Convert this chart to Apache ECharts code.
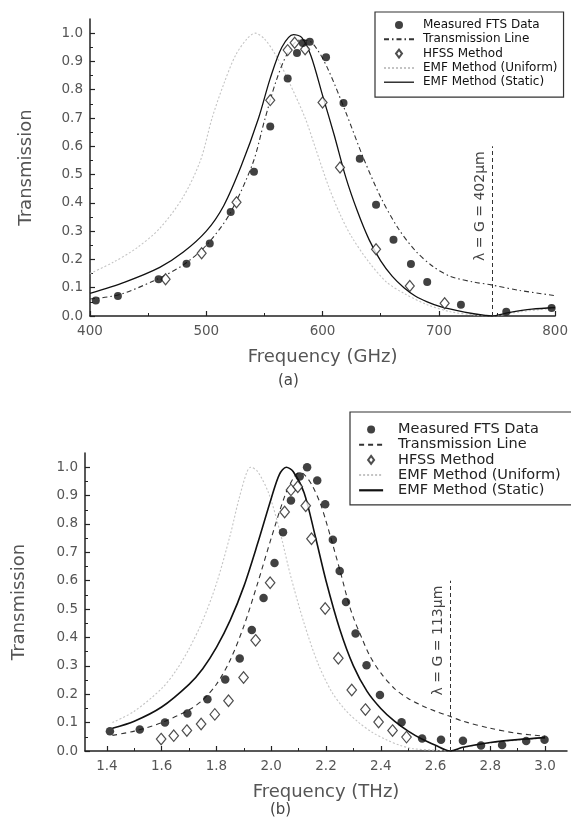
<!DOCTYPE html>
<html>
<head>
<meta charset="utf-8">
<script src="https://cdn.jsdelivr.net/npm/echarts@6/dist/echarts.min.js"></script>
<style>
html, body { margin: 0; padding: 0; background: #fff; }
#main { width: 571px; height: 829px; }
</style>
</head>
<body>
<div id="main"></div>
<script>
// ---------- panel (a), frequency in GHz ----------
var aMeasFreq  = [405, 424, 459, 483, 503, 521, 541, 555, 570, 578, 583, 589, 603, 618, 632, 646, 661, 676, 690, 719, 758, 797]
var aMeasTrans = [0.055, 0.071, 0.13, 0.185, 0.256, 0.368, 0.51, 0.67, 0.84, 0.93, 0.965, 0.97, 0.915, 0.753, 0.556, 0.393, 0.27, 0.184, 0.12, 0.04, 0.015, 0.028]

var aHfssFreq  = [465, 496, 526, 555, 570, 576, 585, 600, 615, 646, 675, 705]
var aHfssTrans = [0.13, 0.222, 0.402, 0.763, 0.94, 0.966, 0.943, 0.755, 0.525, 0.236, 0.106, 0.045]

var aTlFreq  = [400, 425, 455, 480, 500, 520, 540, 550, 560, 570, 580, 587, 595, 605, 620, 635, 650, 665, 680, 695, 710, 730, 745, 770, 800]
var aTlTrans = [0.06, 0.075, 0.125, 0.18, 0.25, 0.36, 0.54, 0.69, 0.83, 0.93, 0.975, 0.975, 0.945, 0.87, 0.72, 0.56, 0.42, 0.31, 0.23, 0.175, 0.14, 0.12, 0.11, 0.09, 0.072]

var aStaticFreq  = [400, 430, 460, 480, 500, 515, 530, 545, 555, 565, 575, 582, 590, 600, 610, 620, 630, 640, 650, 660, 670, 680, 690, 700, 715, 730, 740, 745, 760, 780, 800]
var aStaticTrans = [0.08, 0.12, 0.172, 0.225, 0.30, 0.39, 0.53, 0.70, 0.84, 0.95, 0.995, 0.985, 0.92, 0.78, 0.64, 0.49, 0.37, 0.27, 0.195, 0.14, 0.10, 0.07, 0.05, 0.035, 0.02, 0.008, 0.002, 0, 0.012, 0.024, 0.03]

var aUniFreq  = [400, 420, 440, 460, 480, 495, 505, 515, 525, 535, 542, 550, 560, 572, 585, 595, 605, 615, 625, 640, 655, 670, 690, 710, 730, 745, 770, 800]
var aUniTrans = [0.15, 0.19, 0.24, 0.31, 0.42, 0.55, 0.70, 0.82, 0.92, 0.98, 1.0, 0.98, 0.92, 0.82, 0.70, 0.58, 0.46, 0.36, 0.28, 0.19, 0.12, 0.08, 0.04, 0.015, 0.004, 0, 0.015, 0.028]

var aXTicks = [400, 500, 600, 700, 800]
var aXMinor = [450, 550, 650, 750]
var aGrating = 745.7     // lambda = G = 402 um
var aGratingTop = 0.6

// ---------- panel (b), frequency in THz ----------
var bMeasFreq  = [1.411, 1.520, 1.612, 1.694, 1.767, 1.832, 1.885, 1.929, 1.972, 2.012, 2.043, 2.072, 2.104, 2.131, 2.168, 2.197, 2.225, 2.250, 2.273, 2.308, 2.348, 2.397, 2.476, 2.551, 2.62, 2.70, 2.766, 2.843, 2.931, 2.998]
var bMeasTrans = [0.070, 0.076, 0.100, 0.132, 0.182, 0.252, 0.326, 0.426, 0.539, 0.662, 0.771, 0.883, 0.967, 1.000, 0.953, 0.869, 0.744, 0.634, 0.525, 0.414, 0.302, 0.197, 0.101, 0.044, 0.040, 0.036, 0.019, 0.021, 0.035, 0.040]

var bHfssFreq  = [1.598, 1.644, 1.692, 1.744, 1.794, 1.844, 1.899, 1.943, 1.996, 2.049, 2.072, 2.097, 2.126, 2.147, 2.197, 2.245, 2.294, 2.344, 2.392, 2.443, 2.494]
var bHfssTrans = [0.042, 0.054, 0.072, 0.095, 0.129, 0.177, 0.259, 0.390, 0.593, 0.842, 0.920, 0.931, 0.864, 0.748, 0.502, 0.327, 0.215, 0.146, 0.102, 0.072, 0.049]

var bTlFreq  = [1.42, 1.5, 1.6, 1.7, 1.75, 1.8, 1.85, 1.9, 1.95, 2.0, 2.05, 2.08, 2.10, 2.12, 2.15, 2.18, 2.2, 2.25, 2.28, 2.3, 2.33, 2.36, 2.4, 2.45, 2.5, 2.55, 2.6, 2.65, 2.7, 2.8, 2.9, 3.0]
var bTlTrans = [0.055, 0.07, 0.10, 0.145, 0.18, 0.235, 0.32, 0.44, 0.59, 0.75, 0.90, 0.96, 0.98, 0.975, 0.935, 0.87, 0.81, 0.64, 0.53, 0.47, 0.40, 0.335, 0.275, 0.22, 0.185, 0.16, 0.14, 0.123, 0.105, 0.08, 0.062, 0.052]

var bStaticFreq  = [1.42, 1.5, 1.6, 1.7, 1.75, 1.8, 1.85, 1.9, 1.95, 2.0, 2.03, 2.055, 2.08, 2.12, 2.16, 2.2, 2.25, 2.3, 2.35, 2.4, 2.45, 2.5, 2.55, 2.6, 2.653, 2.7, 2.8, 2.9, 3.0]
var bStaticTrans = [0.08, 0.105, 0.155, 0.235, 0.29, 0.365, 0.46, 0.58, 0.73, 0.89, 0.975, 1.0, 0.985, 0.91, 0.76, 0.60, 0.43, 0.30, 0.21, 0.15, 0.105, 0.07, 0.042, 0.02, 0, 0.013, 0.03, 0.04, 0.047]

var bUniFreq  = [1.42, 1.5, 1.6, 1.65, 1.7, 1.75, 1.8, 1.85, 1.88, 1.91, 1.925, 1.95, 1.99, 2.03, 2.07, 2.12, 2.17, 2.22, 2.27, 2.32, 2.37, 2.42, 2.47, 2.52, 2.6, 2.653, 2.7, 2.8, 2.9, 3.0]
var bUniTrans = [0.10, 0.14, 0.22, 0.28, 0.36, 0.46, 0.59, 0.76, 0.88, 0.98, 1.0, 0.985, 0.91, 0.78, 0.62, 0.45, 0.31, 0.21, 0.145, 0.10, 0.065, 0.04, 0.02, 0.008, 0.003, 0, 0.012, 0.028, 0.038, 0.045]

var bXTicks = [1.4, 1.6, 1.8, 2.0, 2.2, 2.4, 2.6, 2.8, 3.0]
var bXMinor = [1.5, 1.7, 1.9, 2.1, 2.3, 2.5, 2.7, 2.9]
var bGrating = 2.653     // lambda = G = 113 um
var bGratingTop = 0.6

// shared y ticks
var yTicks = [0, 0.1, 0.2, 0.3, 0.4, 0.5, 0.6, 0.7, 0.8, 0.9, 1.0]
var yMinor = [0.05, 0.15, 0.25, 0.35, 0.45, 0.55, 0.65, 0.75, 0.85, 0.95]

var names = ['Measured FTS Data', 'Transmission Line', 'HFSS Method', 'EMF Method (Uniform)', 'EMF Method (Static)']

function zip(xs, ys) {
    return xs.map(function (x, i) { return [x, ys[i]] })
}

var tickFont = 'DejaVu Sans'
var ink = '#222'

function mainX(grid, min, max, ticks, fmt, name) {
    return {
        type: 'value', gridIndex: grid, min: min, max: max, position: 'bottom',
        axisLine: { onZero: false, lineStyle: { color: ink, width: 1.5 } },
        axisTick: { inside: true, length: 5, customValues: ticks, lineStyle: { color: ink, width: 1.2 } },
        axisLabel: { customValues: ticks, formatter: fmt, margin: 8, color: '#555', fontSize: 13.5, fontFamily: tickFont },
        splitLine: { show: false },
        name: name, nameLocation: 'middle', nameGap: 32,
        nameTextStyle: { fontSize: 18, color: '#555', fontFamily: tickFont }
    }
}
function minorX(grid, min, max, ticks) {
    return {
        type: 'value', gridIndex: grid, min: min, max: max, position: 'bottom',
        axisLine: { show: false },
        axisTick: { inside: true, length: 3, customValues: ticks, lineStyle: { color: ink } },
        axisLabel: { show: false }, splitLine: { show: false }
    }
}
function mainY(grid, gap) {
    return {
        type: 'value', gridIndex: grid, min: 0, max: 1.05, position: 'left',
        axisLine: { show: true, onZero: false, lineStyle: { color: ink, width: 1.5 } },
        axisTick: { show: true, inside: true, length: 5, customValues: yTicks, lineStyle: { color: ink, width: 1.2 } },
        axisLabel: { customValues: yTicks, formatter: function (v) { return v.toFixed(1) }, margin: 7, color: '#555', fontSize: 13.5, fontFamily: tickFont },
        splitLine: { show: false },
        name: 'Transmission', nameLocation: 'middle', nameRotate: 90, nameGap: gap,
        nameTextStyle: { fontSize: 18, color: '#555', fontFamily: tickFont }
    }
}
function minorY(grid) {
    return {
        type: 'value', gridIndex: grid, min: 0, max: 1.05, position: 'left',
        axisLine: { show: false },
        axisTick: { show: true, inside: true, length: 3, customValues: yMinor, lineStyle: { color: ink } },
        axisLabel: { show: false }, splitLine: { show: false }
    }
}

function panelSeries(ax, d, dash, staticWidth, symSize, gratingAt, gratingTop, gratingText) {
    return [
        {
            name: names[3], type: 'line', xAxisIndex: ax, yAxisIndex: ax, data: zip(d.uniF, d.uniT),
            smooth: 0.3, symbol: 'none', z: 1,
            lineStyle: { color: '#c4c4c4', width: 1.1, type: [2, 2] }
        },
        {
            name: names[1], type: 'line', xAxisIndex: ax, yAxisIndex: ax, data: zip(d.tlF, d.tlT),
            smooth: 0.3, symbol: 'none', z: 2,
            lineStyle: { color: '#333', width: 1.1, type: dash }
        },
        {
            name: names[4], type: 'line', xAxisIndex: ax, yAxisIndex: ax, data: zip(d.stF, d.stT),
            smooth: 0.3, symbol: 'none', z: 3,
            lineStyle: { color: '#111', width: staticWidth },
            markLine: {
                silent: true, symbol: 'none', animation: false,
                lineStyle: { color: '#333', type: [4, 3], width: 1 },
                label: { show: true, position: 'insideEndTop', formatter: gratingText, color: '#444', fontSize: 14, fontFamily: tickFont, distance: 5 },
                data: [[{ coord: [gratingAt, 0] }, { coord: [gratingAt, gratingTop] }]]
            }
        },
        {
            name: names[0], type: 'scatter', xAxisIndex: ax, yAxisIndex: ax, data: zip(d.measF, d.measT),
            symbol: 'circle', symbolSize: symSize, z: 5,
            itemStyle: { color: '#111' }
        },
        {
            name: names[2], type: 'scatter', xAxisIndex: ax, yAxisIndex: ax, data: zip(d.hfF, d.hfT),
            symbol: 'path://M0,-6L4.5,0L0,6L-4.5,0Z', symbolSize: [symSize + 1, symSize + 3], z: 4,
            itemStyle: { color: '#fff', borderColor: '#222', borderWidth: 1.2 }
        }
    ]
}

var seriesA = panelSeries(0, {
    uniF: aUniFreq, uniT: aUniTrans, tlF: aTlFreq, tlT: aTlTrans, stF: aStaticFreq, stT: aStaticTrans,
    measF: aMeasFreq, measT: aMeasTrans, hfF: aHfssFreq, hfT: aHfssTrans
}, [5, 3, 1.5, 3], 1.3, 8, aGrating, aGratingTop, 'λ = G = 402μm')

var seriesB = panelSeries(2, {
    uniF: bUniFreq, uniT: bUniTrans, tlF: bTlFreq, tlT: bTlTrans, stF: bStaticFreq, stT: bStaticTrans,
    measF: bMeasFreq, measT: bMeasTrans, hfF: bHfssFreq, hfT: bHfssTrans
}, [5, 4], 1.6, 8.5, bGrating, bGratingTop, 'λ = G = 113μm')

// line entries: hide the little marker the line legend icon adds
function legendData(dash, staticWidth) {
    var noDot = { opacity: 0 }
    return [
        { name: names[0] },
        { name: names[1], lineStyle: { type: dash }, itemStyle: noDot },
        { name: names[2] },
        { name: names[3], itemStyle: noDot },
        { name: names[4], lineStyle: { width: staticWidth }, itemStyle: noDot }
    ]
}

var myChart = echarts.init(document.getElementById('main'), null, { renderer: 'canvas' })
myChart.setOption({
    animation: false,
    backgroundColor: '#fff',
    grid: [
        { left: 90, right: 15, top: 19, height: 297 },
        { left: 85, right: 4, top: 453, height: 298 }
    ],
    xAxis: [
        mainX(0, 400, 800, aXTicks, function (v) { return String(v) }, 'Frequency (GHz)'),
        minorX(0, 400, 800, aXMinor),
        mainX(1, 1.32, 3.08, bXTicks, function (v) { return v.toFixed(1) }, 'Frequency (THz)'),
        minorX(1, 1.32, 3.08, bXMinor)
    ],
    yAxis: [mainY(0, 55), minorY(0), mainY(1, 57), minorY(1)],
    legend: [
        {
            left: 375, top: 12, orient: 'vertical', data: legendData([5, 3, 1.5, 3], 1.3),
            itemWidth: 30, itemHeight: 8, itemGap: 2.3, padding: [7, 6, 9, 8],
            borderColor: '#333', borderWidth: 1.2, selectedMode: false,
            textStyle: { fontSize: 12, lineHeight: 12, color: '#111', fontFamily: tickFont, padding: [0, 0, 0, 4] }
        },
        {
            left: 350, top: 412, orient: 'vertical', data: legendData([5, 4], 2.2),
            itemWidth: 24, itemHeight: 8, itemGap: 0.2, padding: [10, 14, 7, 8],
            borderColor: '#333', borderWidth: 1.2, selectedMode: false,
            textStyle: { fontSize: 14.5, lineHeight: 14, color: '#222', fontFamily: tickFont, padding: [0, 0, 0, 10] }
        }
    ],
    graphic: [
        { type: 'text', left: 278, top: 374, style: { text: '(a)', fontSize: 15, fontFamily: tickFont, fill: '#444' } },
        { type: 'text', left: 270, top: 803, style: { text: '(b)', fontSize: 15, fontFamily: tickFont, fill: '#444' } }
    ],
    series: seriesA.concat(seriesB)
})
</script>
</body>
</html>
